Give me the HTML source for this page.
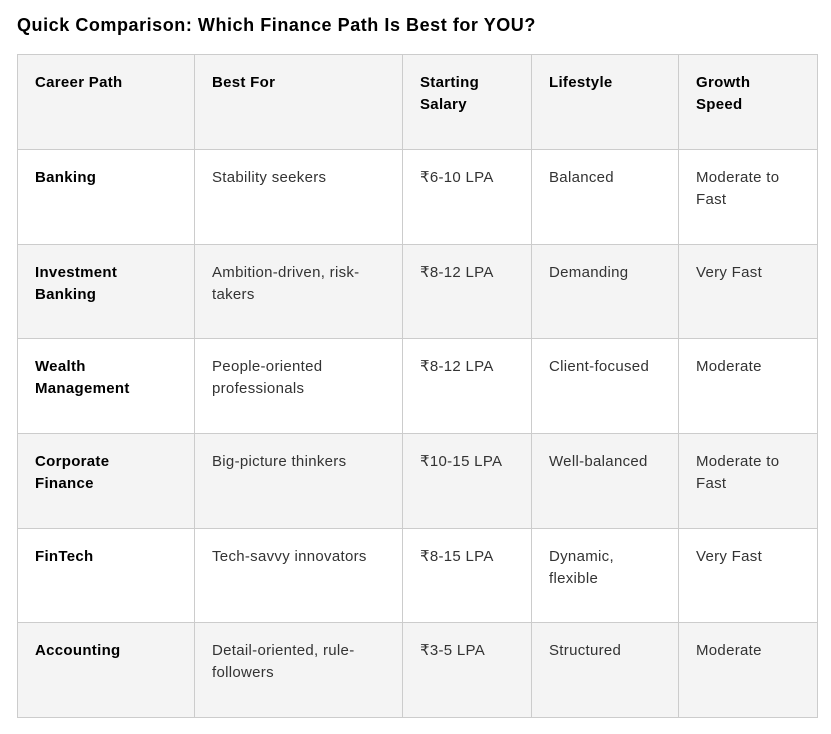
<!DOCTYPE html>
<html><head><meta charset="utf-8"><style>
body{margin:0;background:#fff;font-family:"Liberation Sans",sans-serif;}
h2{position:absolute;left:17px;top:13px;margin:0;font-size:18px;font-weight:bold;color:#000;line-height:24px;letter-spacing:0.55px;}
table{position:absolute;left:17px;top:54px;border-collapse:collapse;table-layout:fixed;width:800px;}
td,th{border:1px solid #ccc;vertical-align:top;text-align:left;padding:17px 17px 0 17px;font-size:15px;line-height:22px;color:#333;box-sizing:border-box;letter-spacing:0.3px;}
th{color:#000;font-weight:bold;background:#f4f4f4;height:95px;}
td{height:94.7px;}
td:first-child{font-weight:bold;color:#000;}
tr.g td{background:#f4f4f4;}
</style></head><body>
<h2>Quick Comparison: Which Finance Path Is Best for YOU?</h2>
<table>
<colgroup><col style="width:177px"><col style="width:208px"><col style="width:129px"><col style="width:147px"><col style="width:139px"></colgroup>
<tr><th>Career Path</th><th>Best For</th><th>Starting<br>Salary</th><th>Lifestyle</th><th>Growth<br>Speed</th></tr>
<tr><td>Banking</td><td>Stability seekers</td><td>₹6-10 LPA</td><td>Balanced</td><td>Moderate to<br>Fast</td></tr>
<tr class="g"><td>Investment<br>Banking</td><td>Ambition-driven, risk-<br>takers</td><td>₹8-12 LPA</td><td>Demanding</td><td>Very Fast</td></tr>
<tr><td>Wealth<br>Management</td><td>People-oriented<br>professionals</td><td>₹8-12 LPA</td><td>Client-focused</td><td>Moderate</td></tr>
<tr class="g"><td>Corporate<br>Finance</td><td>Big-picture thinkers</td><td>₹10-15 LPA</td><td>Well-balanced</td><td>Moderate to<br>Fast</td></tr>
<tr><td>FinTech</td><td>Tech-savvy innovators</td><td>₹8-15 LPA</td><td>Dynamic,<br>flexible</td><td>Very Fast</td></tr>
<tr class="g"><td>Accounting</td><td>Detail-oriented, rule-<br>followers</td><td>₹3-5 LPA</td><td>Structured</td><td>Moderate</td></tr>
</table>
</body></html>
